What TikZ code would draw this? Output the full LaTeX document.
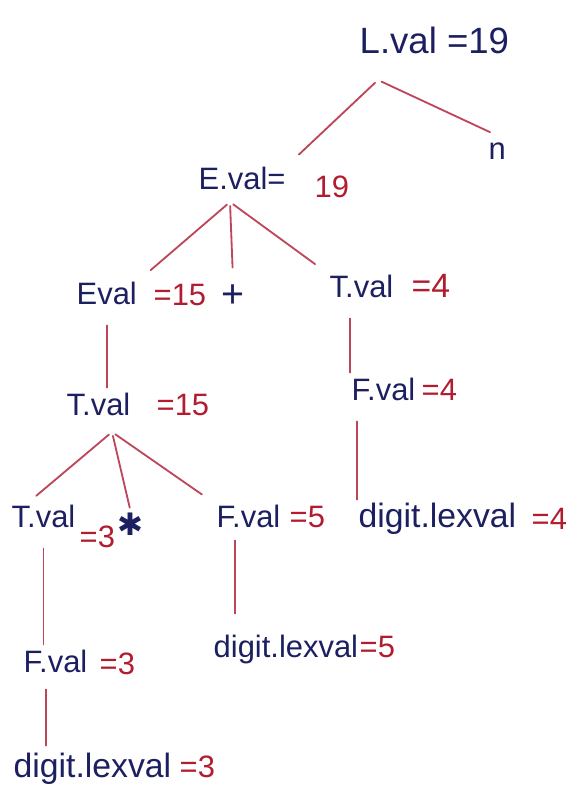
\documentclass[tikz,border=0pt]{standalone}
\usepackage{fontspec}
\setmainfont{Liberation Sans}
\newfontfamily\symfont{DejaVu Sans}
\usepackage{tikz}
\usetikzlibrary{calc}

\definecolor{inkblue}{RGB}{28,32,96}
\definecolor{inkred}{RGB}{178,28,48}
\definecolor{linered}{RGB}{190,70,90}

\tikzset{
  attr/.style={anchor=west, inner sep=1pt, text height=16pt, text depth=5pt,
    text=inkblue, font=\fontsize{22}{24}\selectfont},
  value/.style={attr, text=inkred},
  edge/.style={draw=linered, line width=1.3pt, line cap=round,
    shorten <=1mm, shorten >=1mm}
}

\begin{document}
\begin{tikzpicture}[x=0.025cm, y=-0.025cm]

\useasboundingbox (0,0) rectangle (583,809);

% forks under the inner nodes
\coordinate (Lfork) at (378,80);
\coordinate (Efork) at (230,202);
\coordinate (Tfork) at (112,432);

% root
\node[attr, font=\fontsize{26}{28}\selectfont] (Lval) at (358,46) {L.val =19};
\node[attr] (n) at (487,152) {n};

% E.val = 19
\node[attr] (Ename19) at (197,182) {E.val=};
\node[value] (Enum19) at (313,190) {19};

% second row
\node[attr] (Ename15) at (75,297) {Eval};
\node[value] (Enum15) at (152,298) {=15};
\node[attr, font=\fontsize{28}{30}\selectfont] (plus) at (220,300) {+};
\node[attr] (Tname4) at (328,290) {T.val};
\node[value, font=\fontsize{24}{26}\selectfont] (Tnum4) at (410,290) {=4};

% third row
\node[attr] (Tname15) at (65,408) {T.val};
\node[value] (Tnum15) at (155,408) {=15};
\node[attr] (Fname4) at (350,393) {F.val};
\node[value] (Fnum4) at (420,393) {=4};

% fourth row
\node[attr] (Tname3) at (10,520) {T.val};
\node[value] (Tnum3) at (78,540) {=3};
\node[attr, font=\symfont\fontsize{22}{24}\selectfont] (star) at (116,528) {✱};
\node[attr] (Fname5) at (215,520) {F.val};
\node[value] (Fnum5) at (288,520) {=5};
\node[attr, font=\fontsize{24}{26}\selectfont] (Dname4) at (357,520) {digit.lexval};
\node[value] (Dnum4) at (530,522) {=4};

% lower rows
\node[attr] (Dname5) at (212,650) {digit.lexval};
\node[value] (Dnum5) at (358,650) {=5};
\node[attr] (Fname3) at (22,665) {F.val};
\node[value] (Fnum3) at (98,667) {=3};
\node[attr, font=\fontsize{24}{26}\selectfont] (Dname3) at (12,770) {digit.lexval};
\node[value] (Dnum3) at (178,770) {=3};

\coordinate (Fstem) at ([xshift=5mm]Fname5.south west);
\coordinate (Dstem) at ([xshift=6mm]Fname3.south west);

% branches
\draw[edge, shorten >=4mm] (Lfork) -- (Ename19.north east);
\draw[edge, shorten >=2mm] (Lfork) -- (n.north);

\draw[edge, shorten >=4mm] (Efork) -- (Ename15.north east);
\draw[edge, shorten >=4mm] (Efork) -- (plus.north);
\draw[edge, shorten >=4mm] (Efork) -- (Tname4.north west);

\draw[edge, shorten <=3mm] (Ename15.south) -- (Ename15.south |- Tname15.north);
\draw[edge, shorten <=3mm] (Tname4.south -| Fname4.west) -- (Fname4.north west);
\draw[edge, shorten <=3mm] (Fname4.south -| Dname4.west) -- (Dname4.north west);

\draw[edge, shorten >=3mm] (Tfork) -- (Tname3.135);
\draw[edge] (Tfork) -- (star.north);
\draw[edge, shorten >=4mm] (Tfork) -- (Fname5.north west);

\draw[edge, shorten <=3mm] (Tname3.south) -- (Tname3.south |- Fname3.north);
\draw[edge, shorten >=5mm] (Fstem) -- (Fstem |- Dname5.north);
\draw[edge, shorten <=2mm, shorten >=2mm] (Dstem) -- (Dstem |- Dname3.north);

\end{tikzpicture}
\end{document}
